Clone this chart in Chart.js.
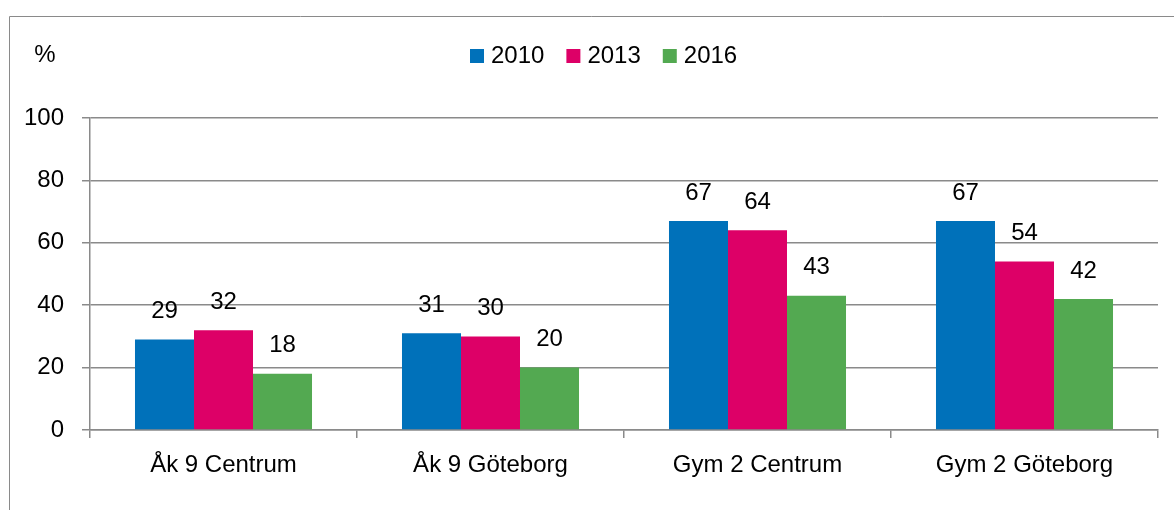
<!DOCTYPE html>
<html>
<head>
<meta charset="utf-8">
<script src="https://cdn.jsdelivr.net/npm/chart.js@4/dist/chart.umd.min.js"></script>
<style>
  html, body { margin: 0; padding: 0; background: #fff; }
  #wrap { position: relative; width: 1174px; height: 510px; }
</style>
</head>
<body>
<div id="wrap"><canvas id="chart" width="1174" height="510"></canvas></div>
<script>
// Chart data
const categories = ["Åk 9 Centrum", "Åk 9 Göteborg", "Gym 2 Centrum", "Gym 2 Göteborg"];
const years = ["2010", "2013", "2016"];
const values2010 = [29, 31, 67, 67];
const values2013 = [32, 30, 64, 54];
const values2016 = [18, 20, 43, 42];
const yTicks = [0, 20, 40, 60, 80, 100];
const unitLabel = "%";

const colors = ["#0071BA", "#DD0067", "#53A951"];
const fontFamily = "'Liberation Sans', Arial, sans-serif";
const gridColor = "#8a8a8a";

// frame, unit label, legend and value labels
const decorPlugin = {
    id: "decor",
    afterDraw(chart) {
        const c = chart.ctx;
        c.save();
        // outer frame (left and top visible)
        c.strokeStyle = gridColor;
        c.lineWidth = 1;
        c.beginPath();
        c.moveTo(9.5, 510);
        c.lineTo(9.5, 16.5);
        c.lineTo(1174, 16.5);
        c.stroke();

        c.fillStyle = "#000";
        c.font = "24px " + fontFamily;
        c.textBaseline = "middle";
        c.textAlign = "center";
        c.fillText(unitLabel, 45, 55);

        // legend
        let x = 470;
        chart.data.datasets.forEach(ds => {
            c.fillStyle = ds.backgroundColor;
            c.fillRect(x, 49, 14, 14);
            c.fillStyle = "#000";
            c.textAlign = "left";
            c.fillText(ds.label, x + 21, 56);
            x += 21 + c.measureText(ds.label).width + 22;
        });

        // value labels
        c.textAlign = "center";
        chart.data.datasets.forEach((ds, i) => {
            chart.getDatasetMeta(i).data.forEach((bar, j) => {
                c.fillText(String(ds.data[j]), bar.x, bar.y - 28);
            });
        });
        c.restore();
    }
};

new Chart(document.getElementById("chart"), {
    type: "bar",
    data: {
        labels: categories,
        datasets: [
            { label: years[0], data: values2010, backgroundColor: colors[0] },
            { label: years[1], data: values2013, backgroundColor: colors[1] },
            { label: years[2], data: values2016, backgroundColor: colors[2] }
        ]
    },
    options: {
        responsive: false,
        animation: false,
        layout: { padding: { top: 118, right: 16, left: 0, bottom: 0 } },
        datasets: { bar: { categoryPercentage: 0.663, barPercentage: 1.0 } },
        plugins: {
            legend: { display: false },
            tooltip: { enabled: false }
        },
        scales: {
            x: {
                grid: {
                    drawOnChartArea: false,
                    drawTicks: true,
                    tickLength: 8,
                    color: gridColor,
                    lineWidth: 1.5
                },
                border: { color: gridColor, width: 1.5 },
                ticks: {
                    color: "#000",
                    padding: 13,
                    font: { family: fontFamily, size: 24 }
                },
                afterFit(scale) { scale.height = 80; }
            },
            y: {
                min: 0,
                max: 100,
                afterBuildTicks(scale) {
                    scale.ticks = yTicks.map(v => ({ value: v }));
                },
                grid: {
                    color: gridColor,
                    lineWidth: 1.5,
                    drawTicks: true,
                    tickLength: 8
                },
                border: { color: gridColor, width: 1.5 },
                ticks: {
                    color: "#000",
                    padding: 18,
                    font: { family: fontFamily, size: 24 }
                },
                afterFit(scale) { scale.width = 90; }
            }
        }
    },
    plugins: [decorPlugin]
});
</script>
</body>
</html>
